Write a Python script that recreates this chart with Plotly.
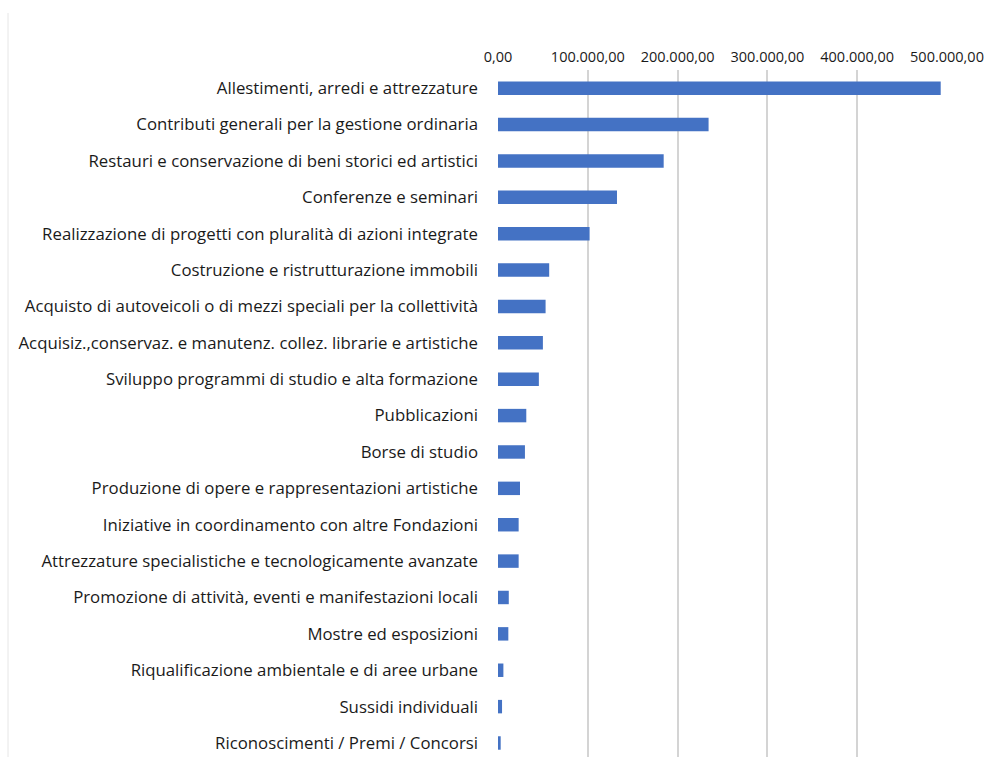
import plotly.graph_objects as go

# Importi erogati per settore di intervento (euro)
categorie = [
    "Allestimenti, arredi e attrezzature",
    "Contributi generali per la gestione ordinaria",
    "Restauri e conservazione di beni storici ed artistici",
    "Conferenze e seminari",
    "Realizzazione di progetti con pluralità di azioni integrate",
    "Costruzione e ristrutturazione immobili",
    "Acquisto di autoveicoli o di mezzi speciali per la collettività",
    "Acquisiz.,conservaz. e manutenz. collez. librarie e artistiche",
    "Sviluppo programmi di studio e alta formazione",
    "Pubblicazioni",
    "Borse di studio",
    "Produzione di opere e rappresentazioni artistiche",
    "Iniziative in coordinamento con altre Fondazioni",
    "Attrezzature specialistiche e tecnologicamente avanzate",
    "Promozione di attività, eventi e manifestazioni locali",
    "Mostre ed esposizioni",
    "Riqualificazione ambientale e di aree urbane",
    "Sussidi individuali",
    "Riconoscimenti / Premi / Concorsi",
]
importi = [
    493000, 234500, 184500, 132500, 102000, 57000, 53000, 50000, 45500,
    31500, 30000, 24500, 23000, 23000, 12000, 11500, 6000, 4500, 3000,
]
tick_valori = [0, 100000, 200000, 300000, 400000, 500000]
tick_testi = ["0,00", "100.000,00", "200.000,00", "300.000,00", "400.000,00", "500.000,00"]

W, H = 984, 757
left, right, top = 498, 947, 70

fig = go.Figure(
    go.Bar(
        x=importi,
        y=categorie,
        orientation="h",
        width=0.37,
        marker=dict(color="#4472C4", line=dict(width=0)),
        hoverinfo="x+y",
    )
)

fig.update_layout(
    width=W,
    height=H,
    margin=dict(l=left, r=W - right, t=top, b=0),
    paper_bgcolor="white",
    plot_bgcolor="white",
    showlegend=False,
    font=dict(family="Open Sans, Lato, sans-serif", color="#1a1a1a"),
    shapes=[
        dict(
            type="line",
            xref="paper", yref="paper",
            x0=(8 - left) / (right - left), x1=(8 - left) / (right - left),
            y0=-0.02, y1=1 + (top - 13) / (H - top),
            line=dict(color="#e6e6e6", width=1),
        )
    ],
)

fig.update_xaxes(
    side="top",
    range=[0, 500000],
    tickvals=tick_valori,
    ticktext=tick_testi,
    showgrid=True,
    gridcolor="#d4d4d4",
    gridwidth=2,
    zeroline=False,
    showline=False,
    ticks="",
    tickfont=dict(size=14.5, color="#1a1a1a"),
    ticklabelstandoff=4,
    fixedrange=True,
)

fig.update_yaxes(
    type="category",
    categoryorder="array",
    categoryarray=categorie,
    range=[18.385, -0.5],
    showgrid=False,
    zeroline=False,
    showline=False,
    ticks="",
    tickfont=dict(size=16.8, color="#1a1a1a"),
    ticklabelstandoff=19,
    fixedrange=True,
)

fig.write_html("out.html", config={"displayModeBar": False})
